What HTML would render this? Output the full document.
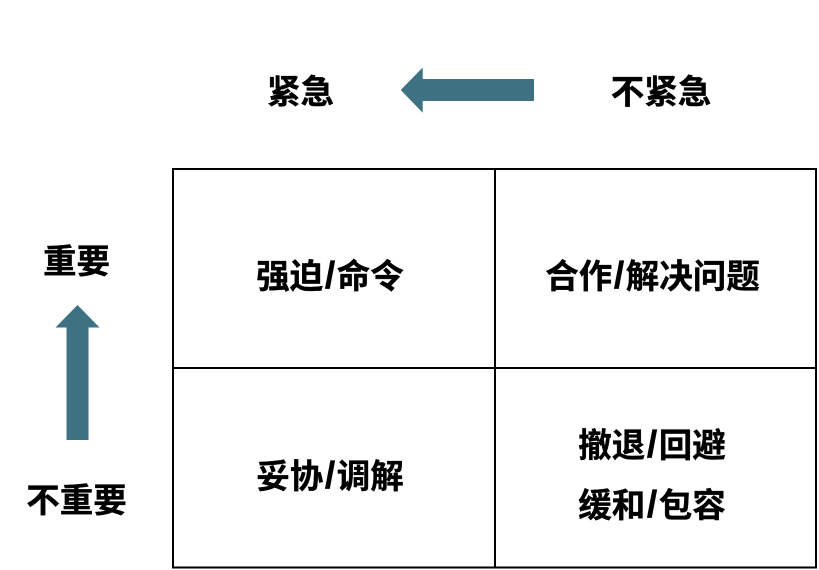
<!DOCTYPE html>
<html lang="zh">
<head>
<meta charset="utf-8">
<style>
html,body{margin:0;padding:0;background:#fff;width:819px;height:570px;overflow:hidden}
svg{display:block}
text{font-family:"Liberation Sans","Noto Sans CJK SC",sans-serif;font-weight:700;font-size:33.5px;fill:#000;stroke:#000;stroke-width:.35px;text-anchor:middle}
.s{font-size:38px}
</style>
</head>
<body>
<svg width="819" height="570" viewBox="0 0 819 570" xmlns="http://www.w3.org/2000/svg">
<rect x="0" y="0" width="819" height="570" fill="#fff"/>
<polygon points="400.7,90 422.7,67.5 422.7,79 534,79 534,101 422.7,101 422.7,112.7" fill="#3e7282"/>
<polygon points="77.5,305 99.5,327.5 88.5,327.5 88.5,440 66.5,440 66.5,327.5 55.5,327.5" fill="#3e7282"/>
<g fill="none" stroke="#000" stroke-width="2">
<rect x="173" y="169" width="643" height="398.5"/>
<line x1="495" y1="169" x2="495" y2="567.5"/>
<line x1="173" y1="368" x2="816" y2="368"/>
</g>
<text x="300.5" y="103.5">紧急</text>
<text x="661" y="103.5">不紧急</text>
<text x="76.5" y="273">重要</text>
<text x="76.5" y="512">不重要</text>
<text x="330" y="288">强迫<tspan class="s" dx="1.5">/</tspan><tspan dx="1.5">命令</tspan></text>
<text x="652.5" y="288">合作<tspan class="s" dx="1.5">/</tspan><tspan dx="1.5">解决问题</tspan></text>
<text x="330" y="488">妥协<tspan class="s" dx="1.5">/</tspan><tspan dx="1.5">调解</tspan></text>
<text x="652" y="457">撤退<tspan class="s" dx="1.5">/</tspan><tspan dx="1.5">回避</tspan></text>
<text x="652" y="517">缓和<tspan class="s" dx="1.5">/</tspan><tspan dx="1.5">包容</tspan></text>
</svg>
</body>
</html>
